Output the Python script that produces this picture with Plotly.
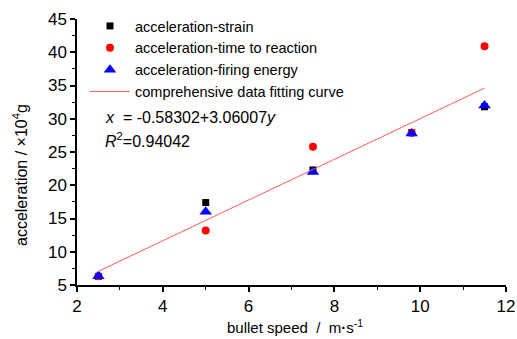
import plotly.graph_objects as go

speed = [2.5, 5.0, 7.5, 9.8, 11.5]
acc_strain = [6.3, 17.4, 22.3, 27.9, 31.8]
acc_time = [6.3, 13.2, 25.8, 27.9, 40.9]
acc_energy = [6.3, 16.0, 22.0, 27.8, 32.0]
fit_intercept = -0.58302
fit_slope = 3.06007
fit_r2 = 0.94042
fit_range = [2.5, 11.5]

FONT = "Liberation Sans, Arial, sans-serif"
L, R, T, B = 77, 11, 19, 54
W, H = 517, 339
PW, PH = W - L - R, H - T - B

fig = go.Figure()
fig.add_trace(go.Scatter(x=speed, y=acc_strain, mode="markers", name="acceleration-strain",
                         marker=dict(symbol="square", size=7, color="black")))
fig.add_trace(go.Scatter(x=speed, y=acc_time, mode="markers", name="acceleration-time to reaction",
                         marker=dict(symbol="circle", size=8, color="red")))
fig.add_trace(go.Scatter(x=speed, y=acc_energy, mode="markers", name="acceleration-firing energy",
                         marker=dict(symbol="triangle-up", size=11, color="blue")))
fit_y = [fit_intercept + fit_slope * v for v in fit_range]
fig.add_trace(go.Scatter(x=fit_range, y=fit_y, mode="lines", name="comprehensive data fitting curve",
                         line=dict(color="#ff5a5a", width=1)))

axis_common = dict(showline=True, linecolor="black", linewidth=1.5, ticks="outside",
                   ticklen=5, tickwidth=1.5, tickcolor="black", showgrid=False, zeroline=False,
                   tickfont=dict(family=FONT, size=17, color="black"), mirror=False,
                   automargin=False)

fig.update_xaxes(range=[2, 12], dtick=2, tick0=2,
                 minor=dict(dtick=1, tick0=2, ticks="outside", ticklen=3, tickcolor="black", tickwidth=1.2),
                 **axis_common)
fig.update_yaxes(range=[5, 45], dtick=5, tick0=5,
                 minor=dict(dtick=2.5, tick0=5, ticks="outside", ticklen=3, tickcolor="black", tickwidth=1.2),
                 **axis_common)

def px_x(p):
    return (p - L) / PW

def px_y(p):
    return (H - B - p) / PH

# axis titles
fig.add_annotation(xref="paper", yref="paper", x=px_x(295), y=px_y(326),
                   xanchor="center", yanchor="middle", showarrow=False,
                   text="bullet speed  /  m<b>·</b>s<sup>-1</sup>",
                   font=dict(family=FONT, size=15, color="black"))
fig.add_annotation(xref="paper", yref="paper", x=px_x(20), y=px_y(175),
                   xanchor="center", yanchor="middle", showarrow=False, textangle=-90,
                   text="acceleration / ×10<sup>4</sup>g",
                   font=dict(family=FONT, size=16, color="black"))

fig.add_annotation(xref="paper", yref="paper", x=px_x(103), y=px_y(118),
                   xanchor="left", yanchor="middle", showarrow=False,
                   text="<i>x</i>  = %.5f+%.5f<i>y</i>" % (fit_intercept, fit_slope),
                   font=dict(family=FONT, size=16, color="black"))
fig.add_annotation(xref="paper", yref="paper", x=px_x(103), y=px_y(140),
                   xanchor="left", yanchor="middle", showarrow=False,
                   text="<i>R</i><sup>2</sup>=%.5f" % fit_r2,
                   font=dict(family=FONT, size=16, color="black"))

fig.update_layout(
    width=W, height=H,
    margin=dict(l=L, r=R, t=T, b=B, autoexpand=False),
    paper_bgcolor="white", plot_bgcolor="white",
    showlegend=True,
    legend=dict(x=px_x(85), y=px_y(10), xanchor="left", yanchor="top",
                bgcolor="rgba(0,0,0,0)", font=dict(family=FONT, size=14.5, color="black"),
                itemwidth=40, tracegroupgap=0),
)

fig.write_html("out.html", config={"displayModeBar": False},
               post_script="document.body.style.margin='0';")
